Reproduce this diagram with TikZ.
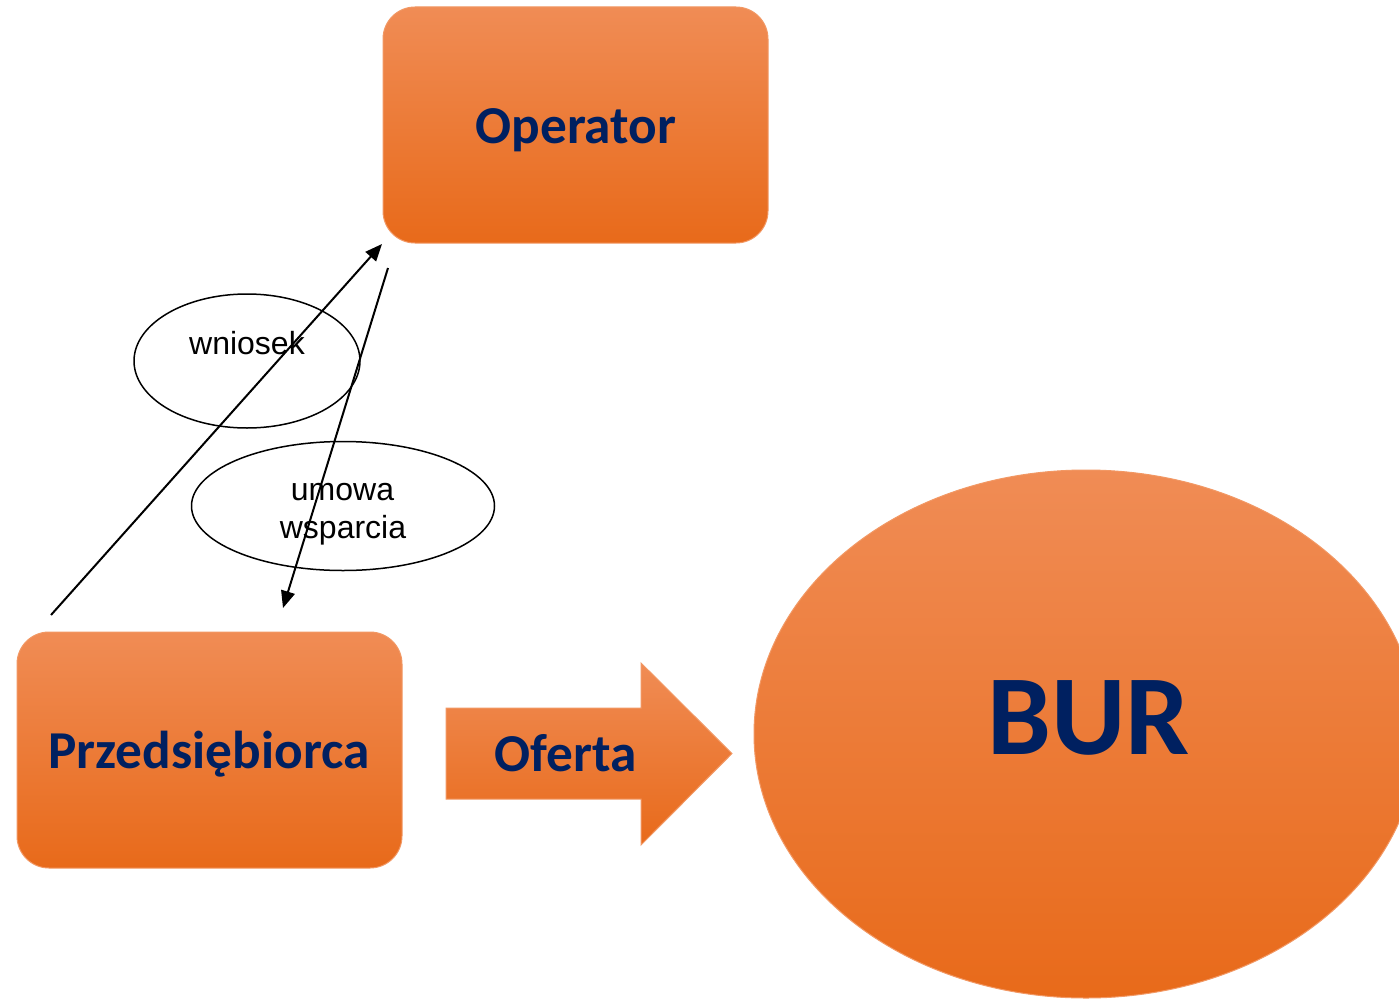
\documentclass[tikz,border=0pt]{standalone}
\usepackage{fontspec}
\setmainfont{Carlito}
\newfontfamily\arialf{Liberation Sans}
\usetikzlibrary{arrows.meta,shapes.geometric}
\definecolor{otop}{RGB}{240,140,85}
\definecolor{omid}{RGB}{244,125,45}
\definecolor{obot}{RGB}{232,106,26}
\definecolor{oedge}{RGB}{242,152,100}
\definecolor{navy}{RGB}{0,32,96}
\tikzset{
 orangeshade/.style={top color=otop, middle color=omid, bottom color=obot, draw=oedge, line width=1pt},
 roundbox/.style={orangeshade, rectangle, rounded corners=32pt, inner sep=0pt, minimum width=385pt, minimum height=236pt},
 bigtext/.style={text=navy, font=\bfseries\fontsize{53.3}{62}\selectfont, anchor=base, inner sep=0pt},
 bubble/.style={ellipse, draw=black, line width=1.5pt, inner sep=0pt},
 bubbletext/.style={font=\arialf\fontsize{32}{38}\selectfont, anchor=base, inner sep=0pt},
 flowarrow/.style={line width=2pt, -{Triangle[length=17pt,width=14pt]}},
}
\begin{document}
\begin{tikzpicture}[x=1pt,y=-1pt]
\useasboundingbox (0,0) rectangle (1399,998);
\clip (0,0) rectangle (1399,998);
\fill[white] (0,0) rectangle (1399,998);
% boxes
\node[roundbox] (opbox) at (575.5,125) {};
\node[roundbox] (przbox) at (209.5,750) {};
\node[bigtext] (optext) at (576,143) {Operator};
\node[bigtext] (przext) at (209,768) {Przedsiębiorca};
% big arrow
\shade[orangeshade] (446,708) -- (641,708) -- (641,663) -- (732,753.5) -- (641,845) -- (641,799) -- (446,799) -- cycle;
\node[bigtext] (oferta) at (565.5,771) {Oferta};
% BUR
\node[ellipse, orangeshade, inner sep=0pt, minimum width=664pt, minimum height=528pt] (bur) at (1086,734) {};
\node[bigtext, font=\bfseries\fontsize{114}{130}\selectfont] (burtext) at (1088.5,754) {BUR};
% bubbles
\node[bubble, minimum width=226pt, minimum height=134pt] (wbub) at (247,361) {};
\node[bubbletext] (wtext) at (247,354) {wniosek};
\node[bubble, minimum width=303pt, minimum height=129pt] (ububble) at (343,506) {};
\node[bubbletext] (utext1) at (342.5,500) {umowa};
\node[bubbletext] (utext2) at (343,538) {wsparcia};
% connectors
\coordinate (wstart) at (51,615);
\coordinate (wend) at (382,244);
\coordinate (ustart) at (388,268);
\coordinate (uend) at (283,608);
\draw[flowarrow] (wstart) -- (wend);
\draw[flowarrow] (ustart) -- (uend);
\end{tikzpicture}
\end{document}
